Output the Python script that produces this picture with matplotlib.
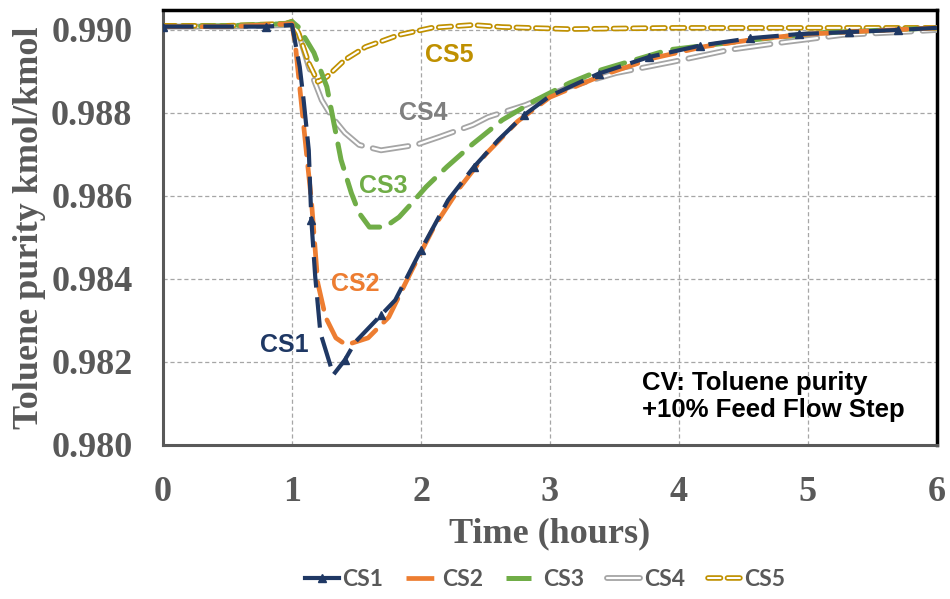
import numpy as np
import matplotlib.pyplot as plt
from matplotlib.lines import Line2D

plt.rcParams['lines.scale_dashes'] = False

# time (hours) and toluene purity for each control structure
t_cs1 = [0, 0.4, 0.8, 1.0, 1.06, 1.09, 1.13, 1.15, 1.18, 1.22, 1.32, 1.41, 1.49,
         1.69, 1.80, 2.0, 2.21, 2.41, 2.60, 2.80, 3.0, 3.38, 3.77, 4.16, 4.55,
         4.93, 5.32, 5.7, 6.0]
y_cs1 = [0.99008, 0.99008, 0.99008, 0.99012, 0.98911, 0.98831, 0.98710, 0.98542,
         0.98405, 0.98270, 0.98169, 0.98205, 0.98248, 0.98313, 0.98349, 0.98470,
         0.98590, 0.98670, 0.98735, 0.98795, 0.98841, 0.98895, 0.98935, 0.98962,
         0.98980, 0.98990, 0.98995, 0.99000, 0.99005]

t_cs2 = [0, 0.5, 1.0, 1.03, 1.07, 1.11, 1.15, 1.19, 1.20, 1.26, 1.34, 1.42, 1.59,
         1.75, 1.93, 2.1, 2.3, 2.5, 2.75, 3.0, 3.4, 3.8, 4.2, 4.6, 5.0, 5.5, 6.0]
y_cs2 = [0.99008, 0.99008, 0.99015, 0.98952, 0.98831, 0.98710, 0.98590, 0.98429,
         0.98390, 0.98308, 0.98258, 0.98241, 0.98258, 0.98308, 0.98422, 0.98525,
         0.98620, 0.98700, 0.98780, 0.98838, 0.98890, 0.98932, 0.98960, 0.98978,
         0.98990, 0.98998, 0.99005]

t_cs3 = [0, 0.5, 0.95, 1.0, 1.05, 1.17, 1.27, 1.32, 1.38, 1.46, 1.52, 1.60, 1.72,
         1.83, 1.93, 2.04, 2.20, 2.40, 2.63, 2.89, 3.15, 3.40, 3.92, 4.57, 5.09, 6.0]
y_cs3 = [0.99008, 0.99010, 0.99015, 0.99020, 0.99007, 0.98945, 0.98863, 0.98783,
         0.98687, 0.98607, 0.98559, 0.98525, 0.98525, 0.98549, 0.98583, 0.98622,
         0.98670, 0.98725, 0.98783, 0.98831, 0.98872, 0.98904, 0.98952, 0.98976,
         0.98993, 0.99005]

t_cs4 = [0, 0.5, 1.0, 1.05, 1.13, 1.23, 1.31, 1.41, 1.52, 1.69, 1.96, 2.14, 2.40,
         2.52, 2.81, 3.15, 3.51, 3.95, 4.39, 4.83, 5.27, 5.73, 6.0]
y_cs4 = [0.99008, 0.99008, 0.99012, 0.98993, 0.98911, 0.98831, 0.98790, 0.98752,
         0.98723, 0.98710, 0.98723, 0.98742, 0.98771, 0.98790, 0.98819, 0.98863,
         0.98896, 0.98923, 0.98952, 0.98971, 0.98988, 0.98995, 0.99000]

t_cs5 = [0, 0.5, 0.95, 1.0, 1.05, 1.13, 1.20, 1.27, 1.41, 1.57, 1.83, 2.08, 2.40,
         2.63, 3.15, 3.92, 4.96, 6.0]
y_cs5 = [0.99010, 0.99010, 0.99015, 0.99020, 0.98993, 0.98920, 0.98875, 0.98887,
         0.98928, 0.98959, 0.98988, 0.99005, 0.99012, 0.99007, 0.99002, 0.99005,
         0.99005, 0.99005]

c1, c2, c3, c4, c5 = '#1F3864', '#ED7D31', '#70AD47', '#A5A5A5', '#BF9000'
grey_txt = '#595959'

fig = plt.figure(figsize=(9.5, 5.99), dpi=100)
ax = fig.add_axes([0.1716, 0.2571, 0.8147, 0.7262])

ax.grid(True, color='#A6A6A6', linestyle=(0, (3, 2)), linewidth=0.9)
ax.set_axisbelow(True)

# CS4: hollow double line
l4a, = ax.plot(t_cs4, y_cs4, color=c4, lw=4.2, dashes=(26, 8),
               dash_capstyle='round', zorder=3)
l4b, = ax.plot(t_cs4, y_cs4, color='white', lw=1.6, dashes=(26, 8),
               dash_capstyle='round', zorder=3)
# CS5: hollow short dashes
l5a, = ax.plot(t_cs5, y_cs5, color=c5, lw=4.0, dashes=(9, 5),
               dash_capstyle='round', zorder=4)
l5b, = ax.plot(t_cs5, y_cs5, color='white', lw=1.5, dashes=(9, 5),
               dash_capstyle='round', zorder=4)
l3, = ax.plot(t_cs3, y_cs3, color=c3, lw=3.6, dashes=(18, 9),
              dash_capstyle='round', zorder=5)
l2, = ax.plot(t_cs2, y_cs2, color=c2, lw=3.4, dashes=(20, 8),
              dash_capstyle='round', zorder=6)
l1, = ax.plot(t_cs1, y_cs1, color=c1, lw=3.0, dashes=(22, 7),
              marker='^', markersize=6,
              markevery=[0, 2, 7, 11, 13, 15, 17, 19, 21, 22, 23, 24, 25, 26, 27],
              zorder=7)

ax.set_xlim(0, 6)
ax.set_ylim(0.980, 0.99048)
ax.set_xticks(range(7))
ax.set_yticks(np.arange(0.980, 0.9901, 0.002))
ax.set_yticklabels(['%.3f' % v for v in np.arange(0.980, 0.9901, 0.002)])
ax.tick_params(length=0, pad=22, labelsize=26, labelcolor=grey_txt)
for lab in ax.get_xticklabels() + ax.get_yticklabels():
    lab.set_fontfamily('Liberation Serif')
    lab.set_fontweight('bold')

for s in ['top', 'right']:
    ax.spines[s].set_color('black')
    ax.spines[s].set_linewidth(2.5)
for s in ['left', 'bottom']:
    ax.spines[s].set_color('#595959')
    ax.spines[s].set_linewidth(2.2)

ax.set_xlabel('Time (hours)', fontsize=26, fontweight='bold', family='Liberation Serif',
              color=grey_txt, labelpad=6)
ax.set_ylabel('Toluene purity kmol/kmol', fontsize=26, fontweight='bold',
              family='Liberation Serif', color=grey_txt, labelpad=4)

# curve labels
lab_kw = dict(fontsize=18, fontweight='bold', family='Liberation Sans', va='center')
ax.text(2.03, 0.98940, 'CS5', color=c5, **lab_kw)
ax.text(1.83, 0.98800, 'CS4', color='#7F7F7F', **lab_kw)
ax.text(1.52, 0.98624, 'CS3', color=c3, **lab_kw)
ax.text(1.30, 0.98388, 'CS2', color=c2, **lab_kw)
ax.text(0.75, 0.98241, 'CS1', color=c1, **lab_kw)

ax.text(3.71, 0.98116, 'CV: Toluene purity\n+10% Feed Flow Step', fontsize=18.5,
        fontweight='bold', family='Liberation Sans', color='black', va='center',
        ha='left', linespacing=1.15)

# legend along the bottom
h1 = Line2D([], [], color=c1, lw=3.0, marker='^', markersize=6)
h2 = Line2D([], [], color=c2, lw=3.4, dashes=(20, 8))
h3 = Line2D([], [], color=c3, lw=3.6, dashes=(18, 9))
leg = fig.legend([h1, h2, h3, (l4a, l4b), (l5a, l5b)], ['CS1', 'CS2', 'CS3', 'CS4', 'CS5'],
                 loc='center', bbox_to_anchor=(0.574, 0.032), ncol=5, frameon=False,
                 handlelength=1.45, handletextpad=0.15, columnspacing=1.0,
                 prop={'family': 'Lato', 'weight': 'bold', 'size': 16.5})
for txt in leg.get_texts():
    txt.set_color(grey_txt)

fig.savefig('out.png', dpi=100)
